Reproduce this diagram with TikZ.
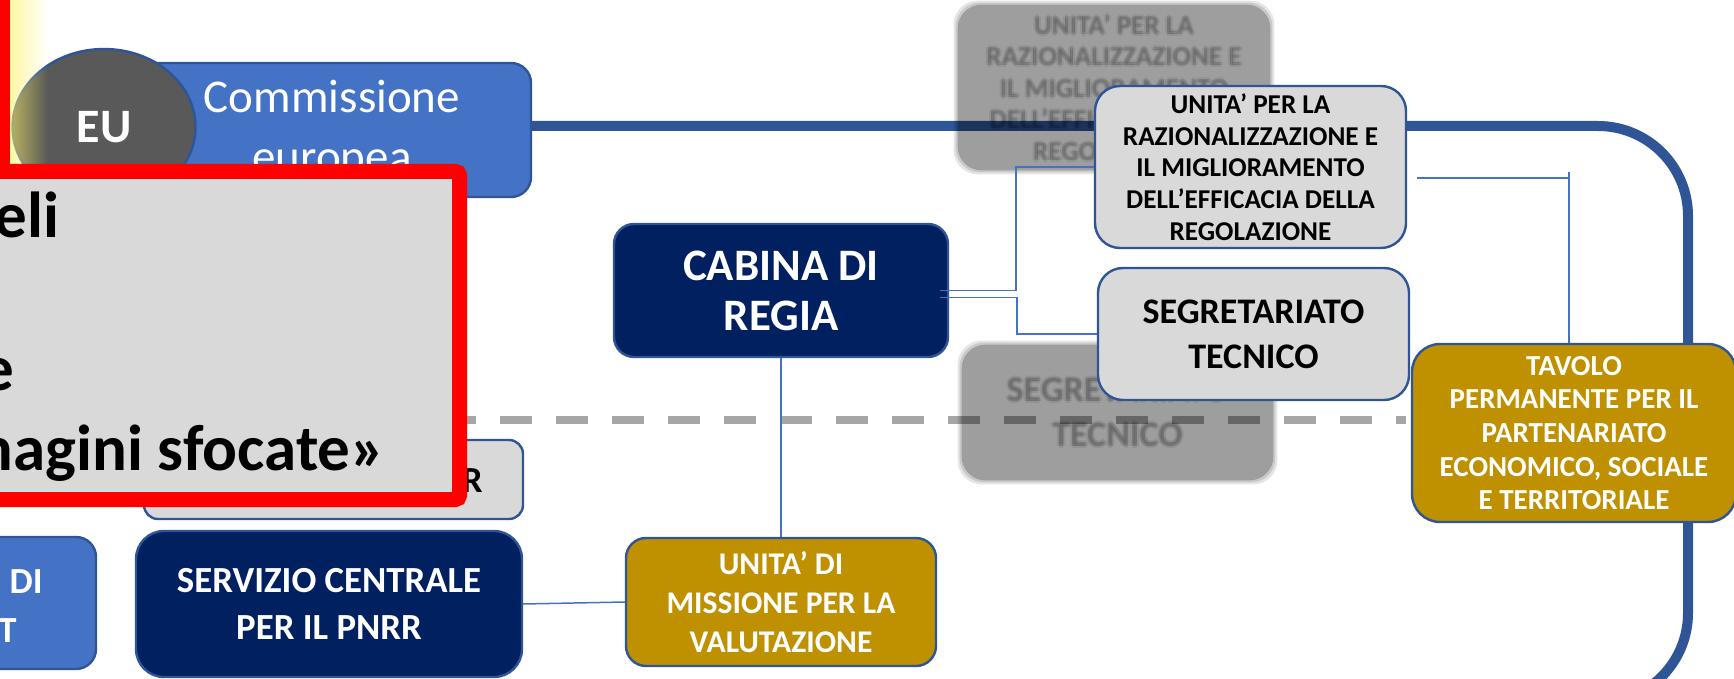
\documentclass[tikz,border=0pt]{standalone}
\usepackage{fontspec}
\setmainfont{Carlito}
\usepackage{tikz}
\usetikzlibrary{shapes.geometric, calc, fadings, backgrounds}
\definecolor{navy}{HTML}{002060}
\definecolor{boxblue}{HTML}{4472C4}
\definecolor{edgeblue}{HTML}{2F5597}
\definecolor{connblue}{HTML}{4472C4}
\definecolor{lightgray}{HTML}{D9D9D9}
\definecolor{gold}{HTML}{BF9000}
\definecolor{dashgray}{HTML}{A6A6A6}
\definecolor{eugray}{HTML}{595959}
\definecolor{alertred}{HTML}{FF0000}
\definecolor{glowyellow}{HTML}{FFF066}
\newcommand{\setfs}[2]{\fontsize{#1}{#2}\selectfont}
\tikzfading[name=glowfade, left color=transparent!40, right color=transparent!100]
\tikzset{box/.style={draw=edgeblue, line width=1.2pt, rounded corners=10pt,
    align=center, inner sep=0pt}}
\tikzset{conn/.style={draw=connblue, line width=0.75pt}}
\tikzset{frameline/.style={draw=edgeblue, line width=5pt, rounded corners=45pt}}
\tikzset{dashline/.style={draw=dashgray, line width=3.6pt, dash pattern=on 16pt off 12pt}}
\tikzset{ghostshape/.style={inner sep=0pt, minimum width=#1}}
\tikzset{ghosttext/.style={align=center, inner sep=0pt, text=black, text opacity=.08}}
\tikzset{redtext/.style={anchor=base east, inner sep=0pt, font=\bfseries\setfs{32.5pt}{38pt}}}

\begin{document}
\begin{tikzpicture}[x=0.5pt, y=-0.5pt]
      \useasboundingbox (0,0) rectangle (1734,679);
      % upper level
      \node[box, fill=boxblue, text=white, font=\setfs{23.5pt}{30pt},
        minimum width=199pt, minimum height=67pt] (comm) at (332,130) {Commissione\\europea};
      \node[draw=edgeblue, line width=1.2pt, ellipse, fill=eugray, text=white, inner sep=0pt,
        minimum width=91.5pt, minimum height=78pt, font=\bfseries\setfs{24pt}{26pt}] (eu) at (104,127) {EU};
      \fill[glowyellow, path fading=glowfade] (10,-5) rectangle (48,164);
      \node[box, fill=navy, text=white, font=\bfseries\setfs{22.5pt}{25pt},
        minimum width=167pt, minimum height=66.5pt] (cabina) at (781,290.5) {CABINA DI\\REGIA};
      \node[box, fill=lightgray, rounded corners=12.5pt, font=\bfseries\setfs{13.6pt}{15.8pt},
        minimum width=155.5pt, minimum height=81pt] (unita) at (1250.5,167)
        {UNITA’ PER LA\\RAZIONALIZZAZIONE E\\IL MIGLIORAMENTO\\DELL’EFFICACIA DELLA\\REGOLAZIONE};
      \node[box, fill=lightgray, rounded corners=12.5pt, font=\bfseries\setfs{18pt}{22.5pt},
        minimum width=155.5pt, minimum height=66pt] (segr) at (1253.5,334) {SEGRETARIATO\\TECNICO};
      \node[box, fill=gold, text=white, rounded corners=14pt, font=\bfseries\setfs{14.5pt}{16.8pt},
        minimum width=162pt, minimum height=89pt] (tavolo) at (1574,433)
        {TAVOLO\\PERMANENTE PER IL\\PARTENARIATO\\ECONOMICO, SOCIALE\\E TERRITORIALE};
      % lower level
      \node[box, fill=gold, text=white, font=\bfseries\setfs{15.8pt}{19.5pt},
        minimum width=155pt, minimum height=64pt] (missione) at (781,602)
        {UNITA’ DI\\MISSIONE PER LA\\VALUTAZIONE};
      \node[box, fill=navy, text=white, rounded corners=14pt, font=\bfseries\setfs{18.4pt}{23.5pt},
        minimum width=193pt, minimum height=73pt] (servizio) at (329,604) {SERVIZIO CENTRALE\\PER IL PNRR};
      \node[box, fill=lightgray, rounded corners=7pt, minimum width=189.5pt, minimum height=39.5pt]
        (pnrrbox) at (333.5,479.5) {};
      \node[anchor=base east, inner sep=0pt, font=\bfseries\setfs{18.4pt}{22pt}] (pnrrtxt) at (483,492) {R};
      \node[box, fill=boxblue, minimum width=78pt, minimum height=66pt] (leftbox) at (18,603) {};
      \node[anchor=base east, inner sep=0pt, text=white, font=\bfseries\setfs{18.4pt}{22pt}] (lefttxtA) at (43,593) {DI};
      \node[anchor=base east, inner sep=0pt, text=white, font=\bfseries\setfs{18.4pt}{22pt}] (lefttxtB) at (17,642) {T};
      % connectors
      \draw[conn] ([xshift=-4.5pt]cabina.east) -| ([xshift=-39pt]unita.west) -- (unita.west);
      \draw[conn] ([xshift=-4.5pt, yshift=-3.5pt]cabina.east) -| ([xshift=-40pt]segr.west) -- (segr.west);
      \draw[conn] ([xshift=5pt, yshift=-5.5pt]unita.east) -| ([xshift=-2.5pt]tavolo.north);
      \draw[conn] ([xshift=-2.5pt]tavolo.north) -- ++(0,-171);
      \draw[conn] (cabina.south) -- (missione.north);
      \draw[conn] (servizio.east) -- (missione.west);
      %%%%%%%%%%%% frame, divider and blurred copies
      \begin{scope}[on background layer]
        \draw[dashline] (-4,420) -- (1406,420);
        \draw[frameline] ([yshift=2pt]comm.east) -- (1688,126) -- (1688,703) -- (1300,703);
        \node[ghostshape=156pt, minimum height=82.5pt] (ghostA) at (1114,87.5) {};
        \node[ghostshape=155.5pt, minimum height=67.5pt] (ghostB) at (1117.5,412.5) {};
        \foreach \g/\o in {4/.1, 2/.12, 0/.21} {
          \fill[black, fill opacity=\o, rounded corners=12pt]
            ([shift={(-\g,\g)}]ghostA.south west) rectangle ([shift={(\g,-\g)}]ghostA.north east);
          \fill[black, fill opacity=\o, rounded corners=12pt]
            ([shift={(-\g,\g)}]ghostB.south west) rectangle ([shift={(\g,-\g)}]ghostB.north east);
        }
        \foreach \dx/\dy in {0/0, 2/0, -2/0, 0/2, 0/-2} {
          \node[ghosttext, font=\bfseries\setfs{13.6pt}{15.8pt}] at ([shift={(\dx,\dy)}]ghostA.center)
            {UNITA’ PER LA\\RAZIONALIZZAZIONE E\\IL MIGLIORAMENTO\\DELL’EFFICACIA DELLA\\REGOLAZIONE};
          \node[ghosttext, font=\bfseries\setfs{18pt}{22.5pt}] at ([shift={(\dx,\dy)}]ghostB.center)
            {SEGRETARIATO\\TECNICO};
        }
      \end{scope}
      %%%%%%%%%%%% red note on top
      \fill[alertred] (-5,-5) rectangle (10,172);
      \draw[alertred, line width=7.5pt, fill=lightgray, rounded corners=2pt] (-60,171.5) rectangle (459.5,499.5);
      \node[redtext] (noteA) at (60,238) {eli};
      \node[redtext] (noteB) at (15,390) {e};
      \node[redtext] (noteC) at (386,470) {magini sfocate»};
\end{tikzpicture}
\end{document}
